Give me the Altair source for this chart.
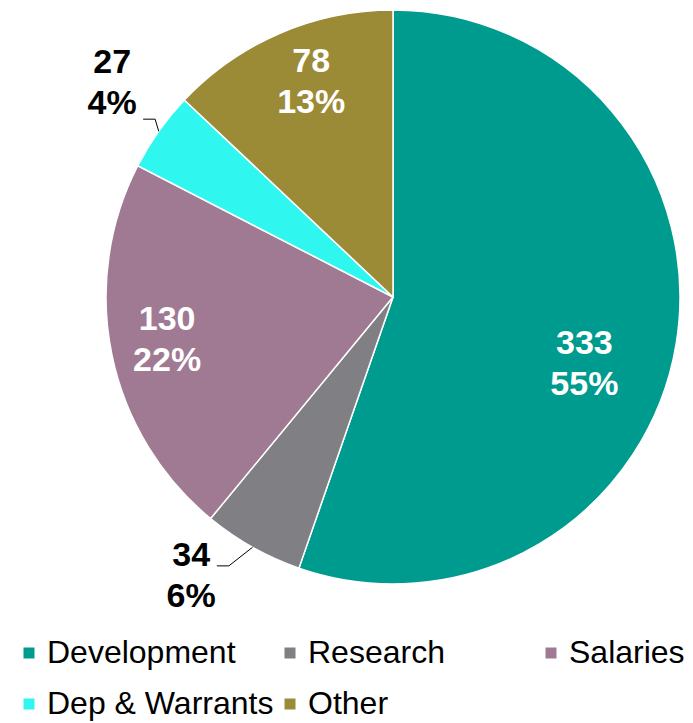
import math
import altair as alt
import pandas as pd

categories = ["Development", "Research", "Salaries", "Dep & Warrants", "Other"]
values = [333, 34, 130, 27, 78]
colors = ["#009B8F", "#7F7F84", "#A07A93", "#2FF7EF", "#9B8A36"]

total = sum(values)
pcts = [round(v / total * 100) for v in values]
labels = [f"{v}\n{p}%" for v, p in zip(values, pcts)]
df = pd.DataFrame({"category": categories, "value": values,
                   "idx": list(range(len(values))), "label": labels})

CX, CY, R = 385, 289, 287
FONT = "Liberation Sans"
LH = 41

base = alt.Chart(df).encode(
    theta=alt.Theta("value:Q", stack=True),
    order=alt.Order("idx:Q", sort="ascending"),
)

pie = base.mark_arc(outerRadius=R, stroke="white", strokeWidth=1.5).encode(
    x=alt.value(CX), y=alt.value(CY),
    color=alt.Color(
        "category:N",
        scale=alt.Scale(domain=categories, range=colors),
        legend=alt.Legend(
            title=None, orient="none", legendX=5, legendY=629,
            direction="horizontal",
            columns=3, gridAlign="all", symbolType="square", symbolSize=121,
            symbolStrokeWidth=0, labelFont=FONT, labelFontSize=32,
            labelColor="black", labelLimit=400, labelOffset=2,
            columnPadding=0, rowPadding=19,
        ),
    ),
)


def label_layer(cats, radius, offset_deg, color):
    cond = " || ".join(f"datum.category === '{c}'" for c in cats)
    return base.transform_calculate(
        txt=f"({cond}) ? datum.label : ''"
    ).mark_text(
        radius=radius, thetaOffset=math.radians(offset_deg), font=FONT,
        fontSize=34, fontWeight="bold", lineBreak="\n", lineHeight=LH,
        color=color, align="center", baseline="middle", dy=-LH / 2,
    ).encode(x=alt.value(CX), y=alt.value(CY), text="txt:N")


layers = [
    pie,
    label_layer(["Development"], 203, 9.9, "white"),
    label_layer(["Salaries"], 230, 0.8, "white"),
    label_layer(["Other"], 230, 2.5, "white"),
    label_layer(["Research"], 345, 6.5, "black"),
    label_layer(["Dep & Warrants"], 353, 2.0, "black"),
]

# leader lines for outside labels (derived from slice mid-angles)
leader_style = {"Research": (315, 2.1), "Dep & Warrants": (297, 1.5)}
rows = []
cum = 0
for c, v in zip(categories, values):
    mid = (cum + v / 2) / total * 2 * math.pi
    cum += v
    if c in leader_style:
        re_, off = leader_style[c]
        a = mid + math.radians(off)
        p0 = (CX + R * math.sin(mid), CY - R * math.cos(mid))
        p1 = (CX + re_ * math.sin(a), CY - re_ * math.cos(a))
        p2 = (p1[0] - 12, p1[1])
        rows.append({"x": p0[0], "y": p0[1], "x2": p1[0], "y2": p1[1]})
        rows.append({"x": p1[0], "y": p1[1], "x2": p2[0], "y2": p2[1]})
lead = pd.DataFrame(rows)

leaders = alt.Chart(lead).mark_rule(color="black", strokeWidth=1).encode(
    x=alt.X("x:Q", scale=None, axis=None),
    y=alt.Y("y:Q", scale=None, axis=None),
    x2="x2:Q", y2="y2:Q",
)
layers.append(leaders)

chart = alt.layer(*layers).properties(
    width=677, height=715, padding=0,
    autosize=alt.AutoSizeParams(type="none"),
).configure_view(stroke=None)

chart.save("out.html", embed_options={"renderer": "svg", "actions": False})
